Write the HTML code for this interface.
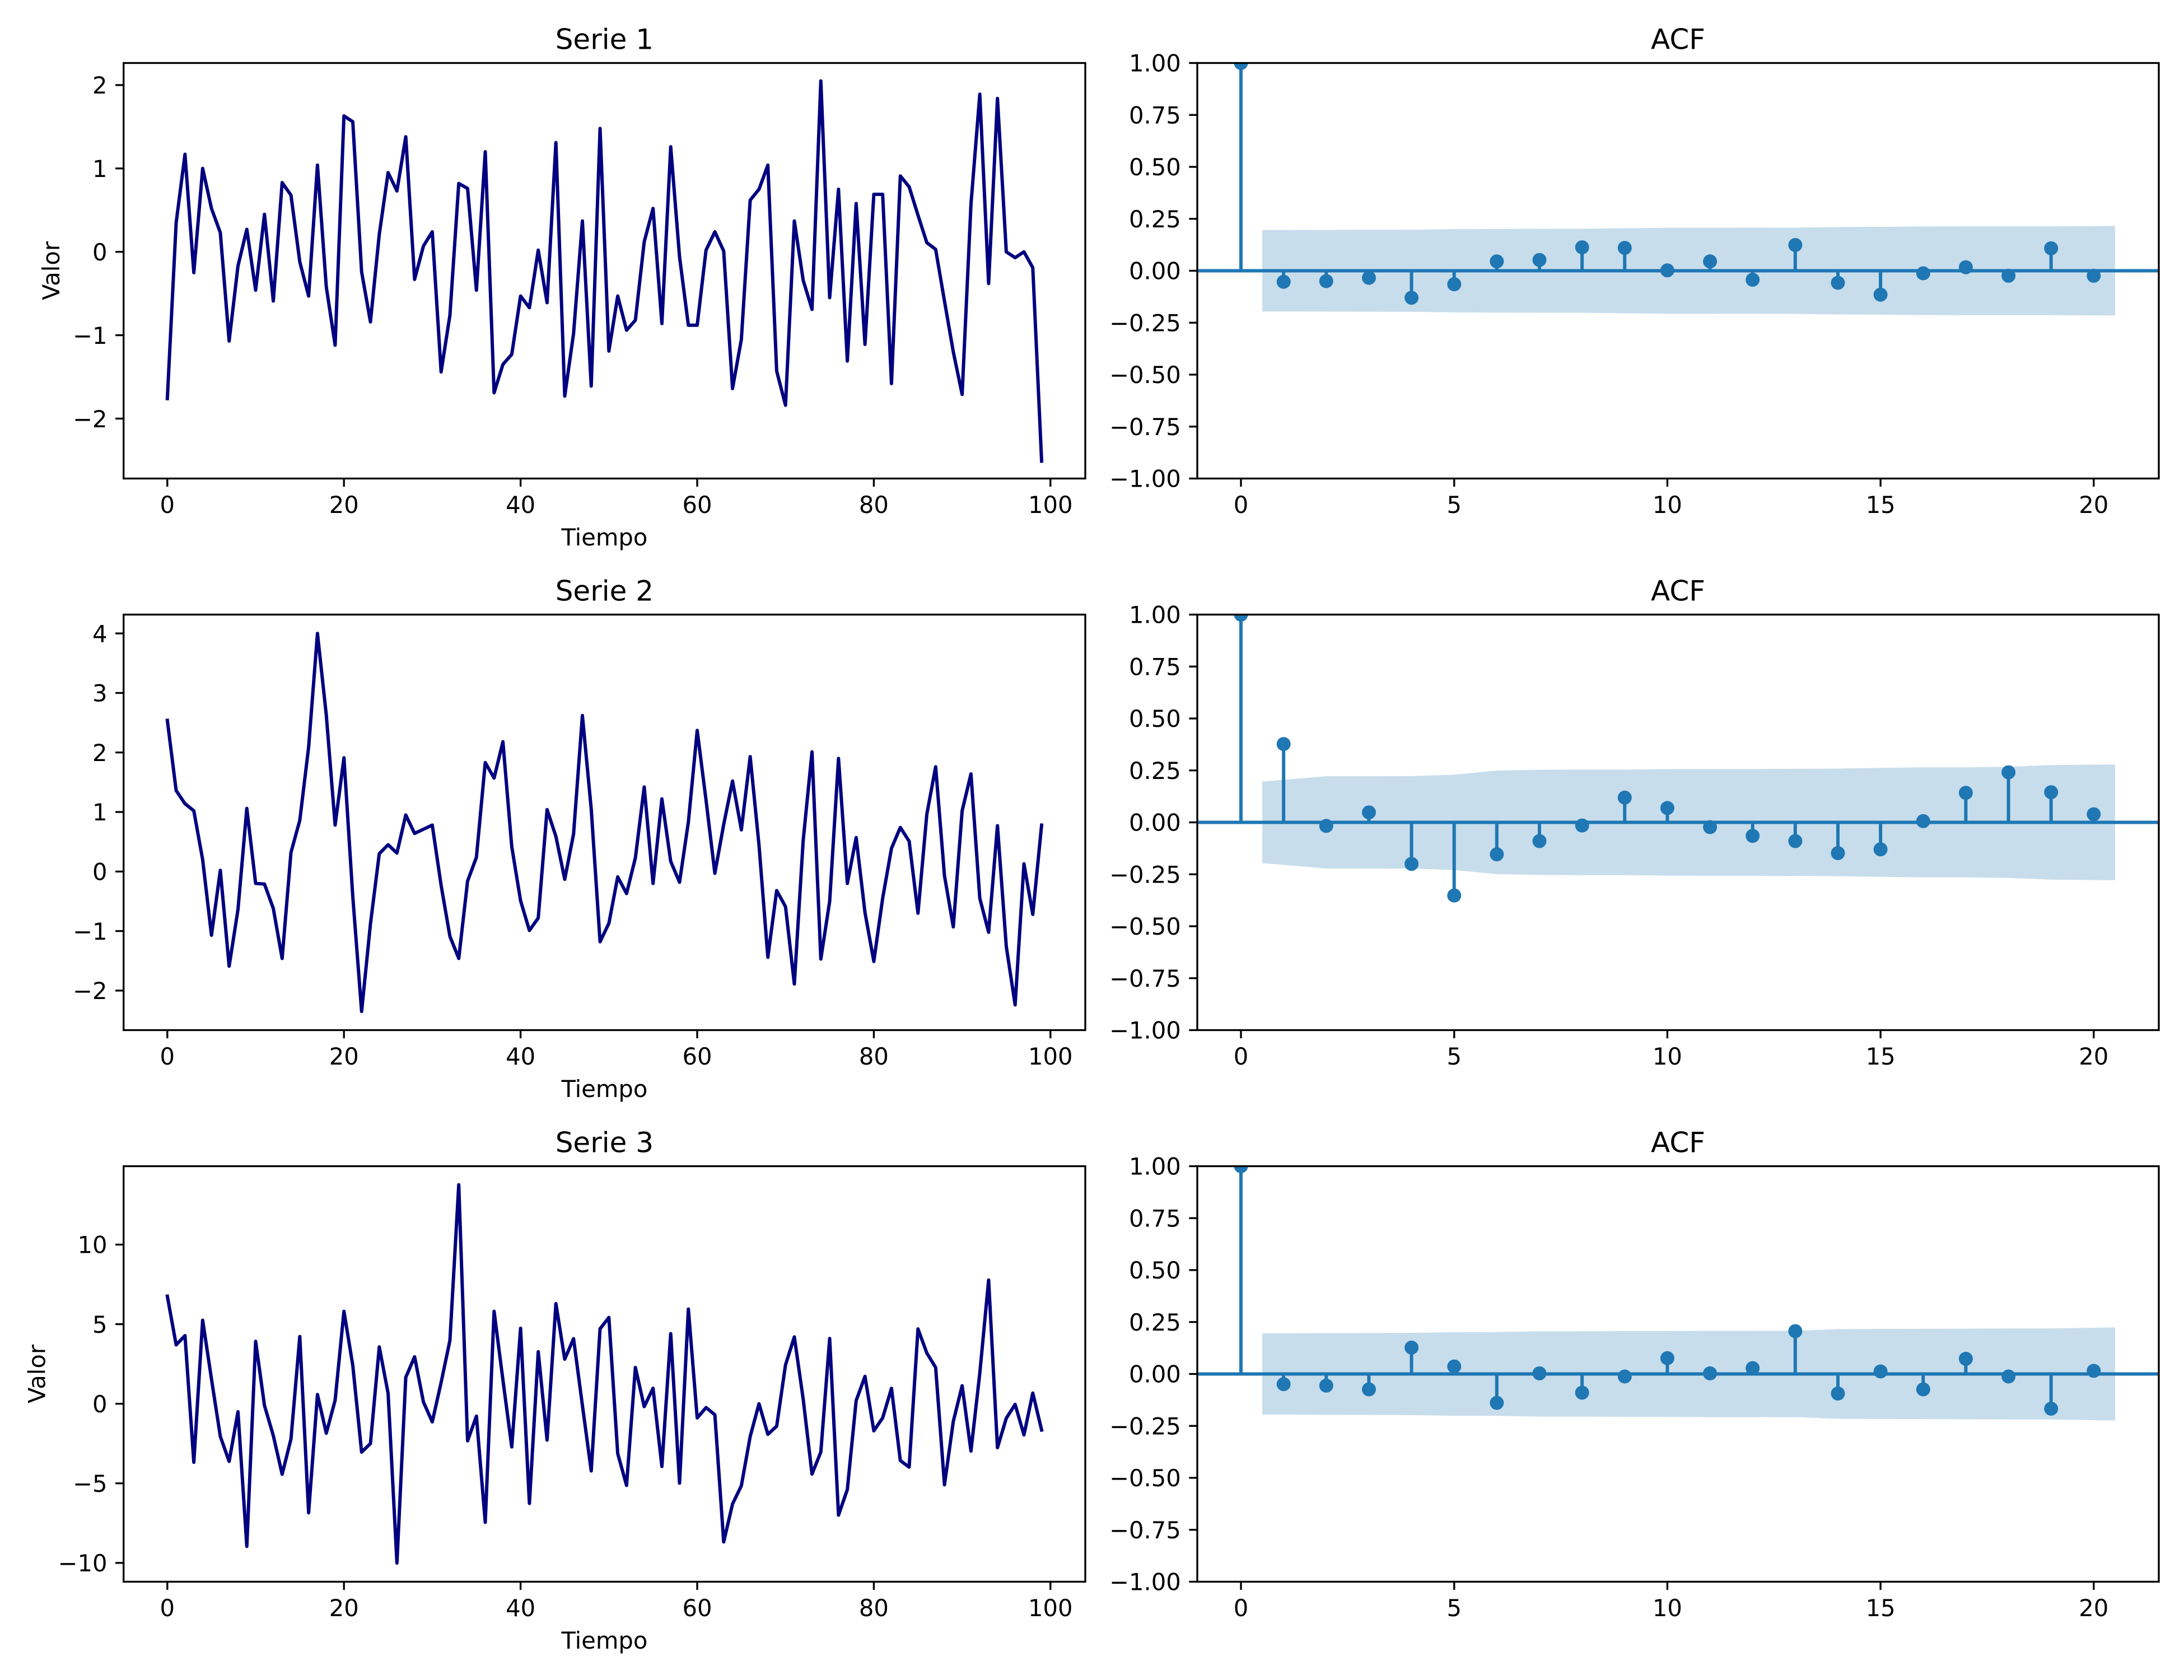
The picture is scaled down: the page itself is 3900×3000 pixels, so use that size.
<!DOCTYPE html>
<html>
<head>
<meta charset="utf-8">
<style>
html,body{margin:0;padding:0;background:#fff;}
svg{display:block;}
text{font-family:"DejaVu Sans","Liberation Sans",sans-serif;fill:#000;}
.tk{font-size:41.67px;}
.tt{font-size:50px;}
.ser{fill:none;stroke:#000080;stroke-width:6;stroke-linejoin:round;stroke-linecap:square;}
.stem{fill:none;stroke:#1f77b4;stroke-width:6;}
.band{fill:#1f77b4;fill-opacity:0.25;stroke:none;}
.sp{fill:none;stroke:#000;stroke-width:3.33;}
.tick{stroke:#000;stroke-width:3.33;}
.mk circle{fill:#1f77b4;}
</style>
</head>
<body>
<svg xmlns="http://www.w3.org/2000/svg" width="3900" height="3000" viewBox="0 0 3900 3000">
<rect x="0" y="0" width="3900" height="3000" fill="#fff"/>
<defs>
<clipPath id="c1"><rect x="2138" y="112.5" width="1717" height="742"/></clipPath>
<clipPath id="c2"><rect x="2138" y="1097.5" width="1717" height="742"/></clipPath>
<clipPath id="c3"><rect x="2138" y="2082.5" width="1717" height="742"/></clipPath>
</defs>

<!-- ================= ROW 1 LEFT: Serie 1 ================= -->
<g transform="translate(298.8,449.7) scale(15.77,-148.9)">
<polyline class="ser" vector-effect="non-scaling-stroke" points="0,-1.76 1,0.35 2,1.17 3,-0.25 4,1 5,0.52 6,0.23 7,-1.07 8,-0.17 9,0.27 10,-0.46 11,0.45 12,-0.59 13,0.83 14,0.68 15,-0.12 16,-0.53 17,1.04 18,-0.42 19,-1.12 20,1.63 21,1.56 22,-0.24 23,-0.84 24,0.21 25,0.95 26,0.73 27,1.38 28,-0.33 29,0.07 30,0.24 31,-1.44 32,-0.76 33,0.82 34,0.76 35,-0.46 36,1.2 37,-1.69 38,-1.35 39,-1.23 40,-0.53 41,-0.67 42,0.02 43,-0.61 44,1.31 45,-1.73 46,-0.98 47,0.37 48,-1.61 49,1.48 50,-1.19 51,-0.53 52,-0.94 53,-0.82 54,0.12 55,0.52 56,-0.86 57,1.26 58,-0.06 59,-0.88 60,-0.88 61,0.02 62,0.24 63,0.01 64,-1.64 65,-1.05 66,0.62 67,0.75 68,1.04 69,-1.43 70,-1.84 71,0.37 72,-0.34 73,-0.69 74,2.05 75,-0.55 76,0.75 77,-1.31 78,0.58 79,-1.11 80,0.69 81,0.69 82,-1.58 83,0.91 84,0.78 85,0.44 86,0.11 87,0.03 88,-0.59 89,-1.2 90,-1.71 91,0.57 92,1.89 93,-0.38 94,1.84 95,0 96,-0.07 97,0 98,-0.19 99,-2.51"/>
</g>
<rect class="sp" x="220.7" y="112.5" width="1717.3" height="742"/>
<g class="tick">
<line x1="298.8" y1="854.5" x2="298.8" y2="869.1"/><line x1="614.2" y1="854.5" x2="614.2" y2="869.1"/><line x1="929.6" y1="854.5" x2="929.6" y2="869.1"/><line x1="1245" y1="854.5" x2="1245" y2="869.1"/><line x1="1560.4" y1="854.5" x2="1560.4" y2="869.1"/><line x1="1875.8" y1="854.5" x2="1875.8" y2="869.1"/>
<line x1="206.1" y1="151.9" x2="220.7" y2="151.9"/><line x1="206.1" y1="300.8" x2="220.7" y2="300.8"/><line x1="206.1" y1="449.7" x2="220.7" y2="449.7"/><line x1="206.1" y1="598.6" x2="220.7" y2="598.6"/><line x1="206.1" y1="747.5" x2="220.7" y2="747.5"/>
</g>
<g class="tk" text-anchor="middle">
<text x="298.8" y="916">0</text><text x="614.2" y="916">20</text><text x="929.6" y="916">40</text><text x="1245" y="916">60</text><text x="1560.4" y="916">80</text><text x="1875.8" y="916">100</text>
</g>
<g class="tk" text-anchor="end">
<text x="191.5" y="167">2</text><text x="191.5" y="316">1</text><text x="191.5" y="465">0</text><text x="191.5" y="614">−1</text><text x="191.5" y="763">−2</text>
</g>
<text class="tk" x="1079.4" y="974" text-anchor="middle">Tiempo</text>
<text class="tk" transform="translate(106,483.5) rotate(-90)" text-anchor="middle">Valor</text>
<text class="tt" x="1079.4" y="87.5" text-anchor="middle">Serie 1</text>

<!-- ================= ROW 2 LEFT: Serie 2 ================= -->
<g transform="translate(298.8,1556.3) scale(15.77,-106.3)">
<polyline class="ser" vector-effect="non-scaling-stroke" points="0,2.54 1,1.36 2,1.14 3,1.02 4,0.2 5,-1.07 6,0.02 7,-1.59 8,-0.64 9,1.06 10,-0.2 11,-0.21 12,-0.62 13,-1.46 14,0.32 15,0.86 16,2.09 17,4 18,2.63 19,0.78 20,1.91 21,-0.42 22,-2.35 23,-0.88 24,0.3 25,0.45 26,0.31 27,0.95 28,0.64 29,0.71 30,0.78 31,-0.23 32,-1.09 33,-1.46 34,-0.16 35,0.24 36,1.83 37,1.57 38,2.18 39,0.42 40,-0.49 41,-0.99 42,-0.78 43,1.04 44,0.59 45,-0.13 46,0.63 47,2.62 48,1.05 49,-1.18 50,-0.87 51,-0.09 52,-0.37 53,0.23 54,1.42 55,-0.2 56,1.22 57,0.17 58,-0.18 59,0.83 60,2.37 61,1.2 62,-0.03 63,0.79 64,1.52 65,0.7 66,1.93 67,0.44 68,-1.44 69,-0.32 70,-0.59 71,-1.89 72,0.52 73,2.01 74,-1.47 75,-0.5 76,1.9 77,-0.2 78,0.57 79,-0.69 80,-1.51 81,-0.45 82,0.39 83,0.74 84,0.51 85,-0.7 86,0.96 87,1.76 88,-0.07 89,-0.93 90,1.02 91,1.64 92,-0.45 93,-1.02 94,0.77 95,-1.26 96,-2.24 97,0.13 98,-0.72 99,0.78"/>
</g>
<rect class="sp" x="220.7" y="1097.5" width="1717.3" height="742"/>
<g class="tick">
<line x1="298.8" y1="1839.5" x2="298.8" y2="1854.1"/><line x1="614.2" y1="1839.5" x2="614.2" y2="1854.1"/><line x1="929.6" y1="1839.5" x2="929.6" y2="1854.1"/><line x1="1245" y1="1839.5" x2="1245" y2="1854.1"/><line x1="1560.4" y1="1839.5" x2="1560.4" y2="1854.1"/><line x1="1875.8" y1="1839.5" x2="1875.8" y2="1854.1"/>
<line x1="206.1" y1="1131.1" x2="220.7" y2="1131.1"/><line x1="206.1" y1="1237.4" x2="220.7" y2="1237.4"/><line x1="206.1" y1="1343.7" x2="220.7" y2="1343.7"/><line x1="206.1" y1="1450" x2="220.7" y2="1450"/><line x1="206.1" y1="1556.3" x2="220.7" y2="1556.3"/><line x1="206.1" y1="1662.6" x2="220.7" y2="1662.6"/><line x1="206.1" y1="1768.9" x2="220.7" y2="1768.9"/>
</g>
<g class="tk" text-anchor="middle">
<text x="298.8" y="1901">0</text><text x="614.2" y="1901">20</text><text x="929.6" y="1901">40</text><text x="1245" y="1901">60</text><text x="1560.4" y="1901">80</text><text x="1875.8" y="1901">100</text>
</g>
<g class="tk" text-anchor="end">
<text x="191.5" y="1146.3">4</text><text x="191.5" y="1252.6">3</text><text x="191.5" y="1358.9">2</text><text x="191.5" y="1465.2">1</text><text x="191.5" y="1571.5">0</text><text x="191.5" y="1677.8">−1</text><text x="191.5" y="1784.1">−2</text>
</g>
<text class="tk" x="1079.4" y="1959" text-anchor="middle">Tiempo</text>
<text class="tt" x="1079.4" y="1072.5" text-anchor="middle">Serie 2</text>

<!-- ================= ROW 3 LEFT: Serie 3 ================= -->
<g transform="translate(298.8,2506.7) scale(15.77,-28.42)">
<polyline class="ser" vector-effect="non-scaling-stroke" points="0,6.76 1,3.7 2,4.28 3,-3.68 4,5.25 5,1.55 6,-2.05 7,-3.62 8,-0.5 9,-8.96 10,3.92 11,-0.11 12,-2 13,-4.43 14,-2.22 15,4.22 16,-6.85 17,0.58 18,-1.85 19,0.22 20,5.81 21,2.41 22,-3.04 23,-2.5 24,3.57 25,0.65 26,-10.01 27,1.66 28,2.95 29,0.11 30,-1.14 31,1.33 32,3.98 33,13.76 34,-2.33 35,-0.78 36,-7.45 37,5.81 38,1.5 39,-2.71 40,4.74 41,-6.26 42,3.27 43,-2.28 44,6.29 45,2.8 46,4.09 47,-0.1 48,-4.22 49,4.71 50,5.42 51,-3.13 52,-5.13 53,2.28 54,-0.18 55,0.97 56,-3.94 57,4.4 58,-4.99 59,5.95 60,-0.89 61,-0.24 62,-0.69 63,-8.68 64,-6.3 65,-5.15 66,-2.06 67,0 68,-1.92 69,-1.41 70,2.44 71,4.2 72,0.3 73,-4.42 74,-3.03 75,4.1 76,-7 77,-5.39 78,0.2 79,1.72 80,-1.7 81,-0.89 82,0.97 83,-3.57 84,-3.98 85,4.7 86,3.19 87,2.28 88,-5.09 89,-1.11 90,1.13 91,-2.97 92,1.92 93,7.77 94,-2.76 95,-0.91 96,-0.04 97,-1.96 98,0.67 99,-1.65"/>
</g>
<rect class="sp" x="220.7" y="2082.5" width="1717.3" height="742"/>
<g class="tick">
<line x1="298.8" y1="2824.5" x2="298.8" y2="2839.1"/><line x1="614.2" y1="2824.5" x2="614.2" y2="2839.1"/><line x1="929.6" y1="2824.5" x2="929.6" y2="2839.1"/><line x1="1245" y1="2824.5" x2="1245" y2="2839.1"/><line x1="1560.4" y1="2824.5" x2="1560.4" y2="2839.1"/><line x1="1875.8" y1="2824.5" x2="1875.8" y2="2839.1"/>
<line x1="206.1" y1="2222.5" x2="220.7" y2="2222.5"/><line x1="206.1" y1="2364.6" x2="220.7" y2="2364.6"/><line x1="206.1" y1="2506.7" x2="220.7" y2="2506.7"/><line x1="206.1" y1="2648.8" x2="220.7" y2="2648.8"/><line x1="206.1" y1="2790.9" x2="220.7" y2="2790.9"/>
</g>
<g class="tk" text-anchor="middle">
<text x="298.8" y="2886">0</text><text x="614.2" y="2886">20</text><text x="929.6" y="2886">40</text><text x="1245" y="2886">60</text><text x="1560.4" y="2886">80</text><text x="1875.8" y="2886">100</text>
</g>
<g class="tk" text-anchor="end">
<text x="191.5" y="2237.7">10</text><text x="191.5" y="2379.8">5</text><text x="191.5" y="2521.9">0</text><text x="191.5" y="2664">−5</text><text x="191.5" y="2806.1">−10</text>
</g>
<text class="tk" x="1079.4" y="2944" text-anchor="middle">Tiempo</text>
<text class="tk" transform="translate(80.5,2453.5) rotate(-90)" text-anchor="middle">Valor</text>
<text class="tt" x="1079.4" y="2057.5" text-anchor="middle">Serie 3</text>

<!-- ================= ROW 1 RIGHT: ACF 1 ================= -->
<g transform="translate(2216,483.5) scale(76.14,-371)">
<polygon class="band" points="0.5,0.196 2,0.1965 3,0.197 4,0.1973 5,0.2005 6,0.2013 7,0.2017 8,0.2022 9,0.2047 10,0.2069 11,0.2069 12,0.2073 13,0.2076 14,0.2104 15,0.2111 16,0.2134 17,0.2135 18,0.2135 19,0.2136 20.5,0.2157 20.5,-0.2157 19,-0.2136 18,-0.2135 17,-0.2135 16,-0.2134 15,-0.2111 14,-0.2104 13,-0.2076 12,-0.2073 11,-0.2069 10,-0.2069 9,-0.2047 8,-0.2022 7,-0.2017 6,-0.2013 5,-0.2005 4,-0.1973 3,-0.197 2,-0.1965 0.5,-0.196"/>
<path class="stem" vector-effect="non-scaling-stroke" d="M0,0V1M1,0V-0.053M2,0V-0.05M3,0V-0.034M4,0V-0.13M5,0V-0.065M6,0V0.045M7,0V0.052M8,0V0.113M9,0V0.11M10,0V0.002M11,0V0.045M12,0V-0.043M13,0V0.124M14,0V-0.058M15,0V-0.115M16,0V-0.012M17,0V0.017M18,0V-0.024M19,0V0.108M20,0V-0.024"/>
</g>
<line x1="2138" y1="483.5" x2="3855" y2="483.5" stroke="#1f77b4" stroke-width="6"/>
<g class="mk" clip-path="url(#c1)">
<circle cx="2216" cy="112.5" r="12.5"/><circle cx="2292.2" cy="503.2" r="12.5"/><circle cx="2368.3" cy="502" r="12.5"/><circle cx="2444.5" cy="496.1" r="12.5"/><circle cx="2520.6" cy="531.7" r="12.5"/><circle cx="2596.8" cy="507.6" r="12.5"/><circle cx="2672.9" cy="466.8" r="12.5"/><circle cx="2749" cy="464.2" r="12.5"/><circle cx="2825.2" cy="441.6" r="12.5"/><circle cx="2901.3" cy="442.7" r="12.5"/><circle cx="2977.4" cy="482.8" r="12.5"/><circle cx="3053.6" cy="466.8" r="12.5"/><circle cx="3129.7" cy="499.5" r="12.5"/><circle cx="3205.9" cy="437.5" r="12.5"/><circle cx="3282" cy="505" r="12.5"/><circle cx="3358.1" cy="526.2" r="12.5"/><circle cx="3434.3" cy="488" r="12.5"/><circle cx="3510.4" cy="477.2" r="12.5"/><circle cx="3586.6" cy="492.4" r="12.5"/><circle cx="3662.7" cy="443.4" r="12.5"/><circle cx="3738.8" cy="492.4" r="12.5"/>
</g>
<rect class="sp" x="2138" y="112.5" width="1717" height="742"/>
<g class="tick">
<line x1="2216" y1="854.5" x2="2216" y2="869.1"/><line x1="2596.8" y1="854.5" x2="2596.8" y2="869.1"/><line x1="2977.4" y1="854.5" x2="2977.4" y2="869.1"/><line x1="3358.1" y1="854.5" x2="3358.1" y2="869.1"/><line x1="3738.8" y1="854.5" x2="3738.8" y2="869.1"/>
<line x1="2123.4" y1="112.5" x2="2138" y2="112.5"/><line x1="2123.4" y1="205.25" x2="2138" y2="205.25"/><line x1="2123.4" y1="298" x2="2138" y2="298"/><line x1="2123.4" y1="390.75" x2="2138" y2="390.75"/><line x1="2123.4" y1="483.5" x2="2138" y2="483.5"/><line x1="2123.4" y1="576.25" x2="2138" y2="576.25"/><line x1="2123.4" y1="669" x2="2138" y2="669"/><line x1="2123.4" y1="761.75" x2="2138" y2="761.75"/><line x1="2123.4" y1="854.5" x2="2138" y2="854.5"/>
</g>
<g class="tk" text-anchor="middle">
<text x="2216" y="916">0</text><text x="2596.8" y="916">5</text><text x="2977.4" y="916">10</text><text x="3358.1" y="916">15</text><text x="3738.8" y="916">20</text>
</g>
<g class="tk" text-anchor="end">
<text x="2108.8" y="127.7">1.00</text><text x="2108.8" y="220.4">0.75</text><text x="2108.8" y="313.2">0.50</text><text x="2108.8" y="405.9">0.25</text><text x="2108.8" y="498.7">0.00</text><text x="2108.8" y="591.4">−0.25</text><text x="2108.8" y="684.2">−0.50</text><text x="2108.8" y="776.9">−0.75</text><text x="2108.8" y="869.7">−1.00</text>
</g>
<text class="tt" x="2996.5" y="87.5" text-anchor="middle">ACF</text>

<!-- ================= ROW 2 RIGHT: ACF 2 ================= -->
<g transform="translate(2216,1468.5) scale(76.14,-371)">
<polygon class="band" points="0.5,0.196 2,0.2221 3,0.2222 4,0.2226 5,0.2294 6,0.2493 7,0.2529 8,0.2541 9,0.2541 10,0.2563 11,0.257 12,0.2571 13,0.2577 14,0.2589 15,0.2621 16,0.2646 17,0.2646 18,0.2675 19,0.2757 20.5,0.2786 20.5,-0.2786 19,-0.2757 18,-0.2675 17,-0.2646 16,-0.2646 15,-0.2621 14,-0.2589 13,-0.2577 12,-0.2571 11,-0.257 10,-0.2563 9,-0.2541 8,-0.2541 7,-0.2529 6,-0.2493 5,-0.2294 4,-0.2226 3,-0.2222 2,-0.2221 0.5,-0.196"/>
<path class="stem" vector-effect="non-scaling-stroke" d="M0,0V1M1,0V0.377M2,0V-0.017M3,0V0.048M4,0V-0.2M5,0V-0.352M6,0V-0.154M7,0V-0.09M8,0V-0.015M9,0V0.119M10,0V0.069M11,0V-0.023M12,0V-0.065M13,0V-0.09M14,0V-0.148M15,0V-0.13M16,0V0.006M17,0V0.142M18,0V0.241M19,0V0.145M20,0V0.039"/>
</g>
<line x1="2138" y1="1468.5" x2="3855" y2="1468.5" stroke="#1f77b4" stroke-width="6"/>
<g class="mk" clip-path="url(#c2)">
<circle cx="2216" cy="1097.5" r="12.5"/><circle cx="2292.2" cy="1328.6" r="12.5"/><circle cx="2368.3" cy="1474.8" r="12.5"/><circle cx="2444.5" cy="1450.7" r="12.5"/><circle cx="2520.6" cy="1542.7" r="12.5"/><circle cx="2596.8" cy="1599.1" r="12.5"/><circle cx="2672.9" cy="1525.6" r="12.5"/><circle cx="2749" cy="1501.9" r="12.5"/><circle cx="2825.2" cy="1474.1" r="12.5"/><circle cx="2901.3" cy="1424.3" r="12.5"/><circle cx="2977.4" cy="1442.9" r="12.5"/><circle cx="3053.6" cy="1477" r="12.5"/><circle cx="3129.7" cy="1492.6" r="12.5"/><circle cx="3205.9" cy="1501.9" r="12.5"/><circle cx="3282" cy="1523.4" r="12.5"/><circle cx="3358.1" cy="1516.7" r="12.5"/><circle cx="3434.3" cy="1466.3" r="12.5"/><circle cx="3510.4" cy="1415.8" r="12.5"/><circle cx="3586.6" cy="1379.1" r="12.5"/><circle cx="3662.7" cy="1414.7" r="12.5"/><circle cx="3738.8" cy="1454" r="12.5"/>
</g>
<rect class="sp" x="2138" y="1097.5" width="1717" height="742"/>
<g class="tick">
<line x1="2216" y1="1839.5" x2="2216" y2="1854.1"/><line x1="2596.8" y1="1839.5" x2="2596.8" y2="1854.1"/><line x1="2977.4" y1="1839.5" x2="2977.4" y2="1854.1"/><line x1="3358.1" y1="1839.5" x2="3358.1" y2="1854.1"/><line x1="3738.8" y1="1839.5" x2="3738.8" y2="1854.1"/>
<line x1="2123.4" y1="1097.5" x2="2138" y2="1097.5"/><line x1="2123.4" y1="1190.25" x2="2138" y2="1190.25"/><line x1="2123.4" y1="1283" x2="2138" y2="1283"/><line x1="2123.4" y1="1375.75" x2="2138" y2="1375.75"/><line x1="2123.4" y1="1468.5" x2="2138" y2="1468.5"/><line x1="2123.4" y1="1561.25" x2="2138" y2="1561.25"/><line x1="2123.4" y1="1654" x2="2138" y2="1654"/><line x1="2123.4" y1="1746.75" x2="2138" y2="1746.75"/><line x1="2123.4" y1="1839.5" x2="2138" y2="1839.5"/>
</g>
<g class="tk" text-anchor="middle">
<text x="2216" y="1901">0</text><text x="2596.8" y="1901">5</text><text x="2977.4" y="1901">10</text><text x="3358.1" y="1901">15</text><text x="3738.8" y="1901">20</text>
</g>
<g class="tk" text-anchor="end">
<text x="2108.8" y="1112.7">1.00</text><text x="2108.8" y="1205.4">0.75</text><text x="2108.8" y="1298.2">0.50</text><text x="2108.8" y="1390.9">0.25</text><text x="2108.8" y="1483.7">0.00</text><text x="2108.8" y="1576.4">−0.25</text><text x="2108.8" y="1669.2">−0.50</text><text x="2108.8" y="1761.9">−0.75</text><text x="2108.8" y="1854.7">−1.00</text>
</g>
<text class="tt" x="2996.5" y="1072.5" text-anchor="middle">ACF</text>

<!-- ================= ROW 3 RIGHT: ACF 3 ================= -->
<g transform="translate(2216,2453.5) scale(76.14,-371)">
<polygon class="band" points="0.5,0.196 2,0.1965 3,0.1971 4,0.1981 5,0.2012 6,0.2015 7,0.2051 8,0.2051 9,0.2066 10,0.2067 11,0.2077 12,0.2077 13,0.2079 14,0.2156 15,0.2171 16,0.2172 17,0.2181 18,0.2191 19,0.2191 20.5,0.2239 20.5,-0.2239 19,-0.2191 18,-0.2191 17,-0.2181 16,-0.2172 15,-0.2171 14,-0.2156 13,-0.2079 12,-0.2077 11,-0.2077 10,-0.2067 9,-0.2066 8,-0.2051 7,-0.2051 6,-0.2015 5,-0.2012 4,-0.1981 3,-0.1971 2,-0.1965 0.5,-0.196"/>
<path class="stem" vector-effect="non-scaling-stroke" d="M0,0V1M1,0V-0.049M2,0V-0.056M3,0V-0.074M4,0V0.127M5,0V0.036M6,0V-0.139M7,0V0.003M8,0V-0.09M9,0V-0.012M10,0V0.076M11,0V0.003M12,0V0.028M13,0V0.206M14,0V-0.094M15,0V0.012M16,0V-0.074M17,0V0.073M18,0V-0.012M19,0V-0.167M20,0V0.015"/>
</g>
<line x1="2138" y1="2453.5" x2="3855" y2="2453.5" stroke="#1f77b4" stroke-width="6"/>
<g class="mk" clip-path="url(#c3)">
<circle cx="2216" cy="2082.5" r="12.5"/><circle cx="2292.2" cy="2471.7" r="12.5"/><circle cx="2368.3" cy="2474.3" r="12.5"/><circle cx="2444.5" cy="2481" r="12.5"/><circle cx="2520.6" cy="2406.4" r="12.5"/><circle cx="2596.8" cy="2440.1" r="12.5"/><circle cx="2672.9" cy="2505.1" r="12.5"/><circle cx="2749" cy="2452.4" r="12.5"/><circle cx="2825.2" cy="2486.9" r="12.5"/><circle cx="2901.3" cy="2458" r="12.5"/><circle cx="2977.4" cy="2425.3" r="12.5"/><circle cx="3053.6" cy="2452.4" r="12.5"/><circle cx="3129.7" cy="2443.1" r="12.5"/><circle cx="3205.9" cy="2377.1" r="12.5"/><circle cx="3282" cy="2488.4" r="12.5"/><circle cx="3358.1" cy="2449" r="12.5"/><circle cx="3434.3" cy="2481" r="12.5"/><circle cx="3510.4" cy="2426.4" r="12.5"/><circle cx="3586.6" cy="2458" r="12.5"/><circle cx="3662.7" cy="2515.5" r="12.5"/><circle cx="3738.8" cy="2447.9" r="12.5"/>
</g>
<rect class="sp" x="2138" y="2082.5" width="1717" height="742"/>
<g class="tick">
<line x1="2216" y1="2824.5" x2="2216" y2="2839.1"/><line x1="2596.8" y1="2824.5" x2="2596.8" y2="2839.1"/><line x1="2977.4" y1="2824.5" x2="2977.4" y2="2839.1"/><line x1="3358.1" y1="2824.5" x2="3358.1" y2="2839.1"/><line x1="3738.8" y1="2824.5" x2="3738.8" y2="2839.1"/>
<line x1="2123.4" y1="2082.5" x2="2138" y2="2082.5"/><line x1="2123.4" y1="2175.25" x2="2138" y2="2175.25"/><line x1="2123.4" y1="2268" x2="2138" y2="2268"/><line x1="2123.4" y1="2360.75" x2="2138" y2="2360.75"/><line x1="2123.4" y1="2453.5" x2="2138" y2="2453.5"/><line x1="2123.4" y1="2546.25" x2="2138" y2="2546.25"/><line x1="2123.4" y1="2639" x2="2138" y2="2639"/><line x1="2123.4" y1="2731.75" x2="2138" y2="2731.75"/><line x1="2123.4" y1="2824.5" x2="2138" y2="2824.5"/>
</g>
<g class="tk" text-anchor="middle">
<text x="2216" y="2886">0</text><text x="2596.8" y="2886">5</text><text x="2977.4" y="2886">10</text><text x="3358.1" y="2886">15</text><text x="3738.8" y="2886">20</text>
</g>
<g class="tk" text-anchor="end">
<text x="2108.8" y="2097.7">1.00</text><text x="2108.8" y="2190.4">0.75</text><text x="2108.8" y="2283.2">0.50</text><text x="2108.8" y="2375.9">0.25</text><text x="2108.8" y="2468.7">0.00</text><text x="2108.8" y="2561.4">−0.25</text><text x="2108.8" y="2654.2">−0.50</text><text x="2108.8" y="2746.9">−0.75</text><text x="2108.8" y="2839.7">−1.00</text>
</g>
<text class="tt" x="2996.5" y="2057.5" text-anchor="middle">ACF</text>
</svg>
</body>
</html>
